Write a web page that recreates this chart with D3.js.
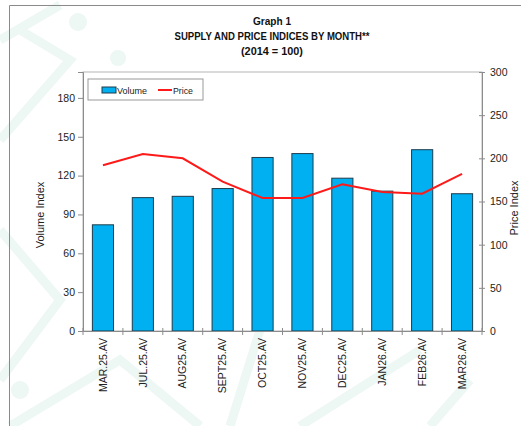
<!DOCTYPE html>
<html>
<head>
<meta charset="utf-8">
<script src="https://cdn.jsdelivr.net/npm/d3@7"></script>
<style>
  body { margin: 0; background: #fff; }
  svg text { font-family: "Liberation Sans", Arial, sans-serif; }
</style>
</head>
<body>
<div id="chart"></div>
<script>
const months = ['MAR.25.AV', 'JUL.25.AV', 'AUG25.AV', 'SEPT25.AV', 'OCT25.AV',
                'NOV25.AV', 'DEC25.AV', 'JAN26.AV', 'FEB26.AV', 'MAR26.AV'];
const volume = [82, 103, 104, 110, 134, 137, 118, 108, 140, 106];
const price = [192, 205, 200, 173, 154, 154, 170, 161, 159, 182];
const volumeTicks = [0, 30, 60, 90, 120, 150, 180];
const priceTicks = [0, 50, 100, 150, 200, 250, 300];
const titleLines = ['Graph 1', 'SUPPLY AND PRICE INDICES BY MONTH**', '(2014 = 100)'];

const config = {
  width: 521,
  height: 426,
  margin: {top: 72, right: 39, bottom: 95, left: 83},
  barColor: '#00b0f0',
  barStroke: '#1d3b4c',
  lineColor: '#ff1a1a',
  axisColor: '#8c8c8c',
  textColor: '#222'
};
const chartW = config.width - config.margin.left - config.margin.right;
const chartH = config.height - config.margin.top - config.margin.bottom;

const svg = d3.select('#chart').append('svg')
  .attr('width', config.width)
  .attr('height', config.height);

// faint watermark pattern in the background
const deco = svg.append('g')
  .attr('fill', 'none')
  .attr('stroke', '#edf7f4')
  .attr('stroke-width', 9);
deco.append('path').attr('d', 'M0,40 L60,5 M0,140 L70,60 L20,30 M0,230 L60,300 L0,380');
deco.append('path').attr('d', 'M10,426 L120,360 L200,426 M230,426 L260,330');
deco.append('path').attr('d', 'M300,426 L420,350 M430,426 L470,380');
svg.append('circle').attr('cx', 78).attr('cy', 22).attr('r', 9).attr('fill', '#edf7f4');
svg.append('circle').attr('cx', 118).attr('cy', 58).attr('r', 8).attr('fill', '#edf7f4');
svg.append('circle').attr('cx', 20).attr('cy', 390).attr('r', 9).attr('fill', '#edf7f4');

// outer frame
svg.append('path')
  .attr('d', `M9.5,${config.height} L9.5,5.5 L${config.width},5.5`)
  .attr('fill', 'none')
  .attr('stroke', '#8a8a8a');

// title
svg.append('g').selectAll('text')
  .data(titleLines)
  .enter()
  .append('text')
  .attr('x', 272)
  .attr('y', (d, i) => 25 + i * 15)
  .attr('text-anchor', 'middle')
  .style('font-size', '10px')
  .style('font-weight', 'bold')
  .attr('fill', '#111')
  .attr('textLength', (d, i) => [38, 195, 62][i])
  .attr('lengthAdjust', 'spacingAndGlyphs')
  .text(d => d);

const chart = svg.append('g')
  .attr('transform', `translate(${config.margin.left}, ${config.margin.top})`);

chart.append('rect')
  .attr('width', chartW)
  .attr('height', chartH)
  .attr('fill', '#fff')
  .attr('stroke', '#b5b5b5');

const scaleX = d3.scaleBand()
  .domain(months)
  .range([0, chartW])
  .paddingInner(0.47)
  .paddingOuter(0.235);

const scaleY = d3.scaleLinear().domain([0, 200]).range([chartH, 0]);
const scaleY2 = d3.scaleLinear().domain([0, 300]).range([chartH, 0]);

// bars
chart.selectAll('.bar')
  .data(volume)
  .enter()
  .append('rect')
  .attr('class', 'bar')
  .attr('x', (d, i) => scaleX(months[i]))
  .attr('y', d => scaleY(d))
  .attr('width', scaleX.bandwidth())
  .attr('height', d => chartH - scaleY(d))
  .attr('fill', config.barColor)
  .attr('stroke', config.barStroke)
  .attr('stroke-width', 1);

// price line
const line = d3.line()
  .x((d, i) => scaleX(months[i]) + scaleX.bandwidth() / 2)
  .y(d => scaleY2(d));
chart.append('path')
  .datum(price)
  .attr('d', line)
  .attr('fill', 'none')
  .attr('stroke', config.lineColor)
  .attr('stroke-width', 2);

// left axis
const yAxis = d3.axisLeft(scaleY).tickValues(volumeTicks).tickSize(5).tickPadding(3);
const gy = chart.append('g').call(yAxis);

// right axis
const y2Axis = d3.axisRight(scaleY2).tickValues(priceTicks).tickSize(3).tickPadding(5);
const gy2 = chart.append('g').attr('transform', `translate(${chartW},0)`).call(y2Axis);
gy2.selectAll('.tick line').attr('x1', -3);

// bottom axis, ticks between categories
const step = scaleX.step();
const xAxis = d3.axisBottom(scaleX).tickSize(0).tickPadding(6);
const gx = chart.append('g').attr('transform', `translate(0,${chartH})`).call(xAxis);
gx.selectAll('.tick text')
  .attr('transform', 'rotate(-90)')
  .attr('text-anchor', 'end')
  .attr('dy', '0.35em')
  .attr('x', -7)
  .attr('y', 0);
gx.selectAll('.sep')
  .data(d3.range(months.length + 1))
  .enter()
  .append('line')
  .attr('class', 'sep')
  .attr('x1', i => i * step)
  .attr('x2', i => i * step)
  .attr('y1', -3)
  .attr('y2', 4)
  .attr('stroke', config.axisColor);

[gy, gy2, gx].forEach(g => {
  g.select('.domain').attr('stroke', config.axisColor);
  g.selectAll('.tick line').attr('stroke', config.axisColor);
  g.selectAll('.tick text')
    .attr('fill', config.textColor)
    .style('font-size', '10.5px')
    .style('font-family', '"Liberation Sans", Arial, sans-serif');
});

// axis titles
svg.append('text')
  .attr('transform', `translate(44, 215) rotate(-90)`)
  .attr('text-anchor', 'middle')
  .style('font-size', '11px')
  .attr('fill', config.textColor)
  .text('Volume Index');
svg.append('text')
  .attr('transform', `translate(518, 208) rotate(-90)`)
  .attr('text-anchor', 'middle')
  .style('font-size', '11px')
  .attr('fill', config.textColor)
  .text('Price Index');

// legend
const legend = chart.append('g').attr('transform', 'translate(5,7)');
legend.append('rect')
  .attr('width', 115)
  .attr('height', 21)
  .attr('fill', '#fff')
  .attr('stroke', '#999');
legend.append('rect')
  .attr('x', 14).attr('y', 8)
  .attr('width', 14).attr('height', 6)
  .attr('fill', config.barColor)
  .attr('stroke', config.barStroke);
legend.append('text')
  .attr('x', 29).attr('y', 14.5)
  .style('font-size', '9.5px')
  .attr('fill', config.textColor)
  .attr('textLength', 30)
  .attr('lengthAdjust', 'spacingAndGlyphs')
  .text('Volume');
legend.append('line')
  .attr('x1', 70).attr('x2', 84)
  .attr('y1', 11).attr('y2', 11)
  .attr('stroke', config.lineColor)
  .attr('stroke-width', 2);
legend.append('text')
  .attr('x', 85).attr('y', 14.5)
  .style('font-size', '9.5px')
  .attr('fill', config.textColor)
  .attr('textLength', 20)
  .attr('lengthAdjust', 'spacingAndGlyphs')
  .text('Price');
</script>
</body>
</html>
